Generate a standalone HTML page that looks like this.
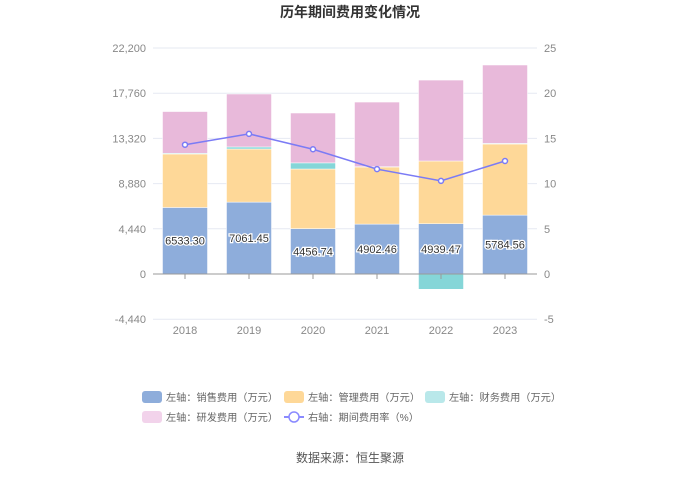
<!DOCTYPE html>
<html><head><meta charset="utf-8"><style>
body{margin:0;background:#fff;font-family:"Liberation Sans","Noto Sans CJK SC",sans-serif}
svg text{font-family:"Liberation Sans","Noto Sans CJK SC",sans-serif}
</style></head><body>
<svg id="c" width="700" height="473">
<text x="350" y="17" text-anchor="middle" font-size="14" font-weight="bold" fill="#333">历年期间费用变化情况</text>
<g id="grid"></g><g id="bars"></g><g id="line"></g><g id="axes"></g>
<g id="legend" font-size="10.2" fill="#666">
<g><rect x="142" y="391" width="20" height="12" rx="3" fill="#8eaddb"/><text x="166" y="401">左轴：销售费用（万元）</text></g>
<g><rect x="284" y="391" width="20" height="12" rx="3" fill="#fed898"/><text x="308" y="401">左轴：管理费用（万元）</text></g>
<g><rect x="425" y="391" width="20" height="12" rx="3" fill="#b9e8ea"/><text x="449" y="401">左轴：财务费用（万元）</text></g>
<g><rect x="142" y="411" width="20" height="12" rx="3" fill="#f2d3eb"/><text x="166" y="421">左轴：研发费用（万元）</text></g>
<g><line x1="284" y1="417" x2="304" y2="417" stroke="#8a8aff" stroke-width="2"/><circle cx="294" cy="417" r="5" fill="#fff" stroke="#8a8aff" stroke-width="1.5"/><text x="308" y="421">右轴：期间费用率（%）</text></g>
</g>
<text x="350" y="462" text-anchor="middle" font-size="12" fill="#555">数据来源：恒生聚源</text>
</svg>
<script>
const years=["2018","2019","2020","2021","2022","2023"];
const sales=[6533.30,7061.45,4456.74,4902.46,4939.47,5784.56];
const mgmt=[5255,5218,5857,5608,6160,6985];
const finance=[70,200,600,30,-1500,60];
const rd=[4100,5200,4900,6350,7950,7700];
const rate=[14.3,15.5,13.8,11.6,10.3,12.5];
const leftTicks=[-4440,0,4440,8880,13320,17760,22200];
const rightTicks=[-5,0,5,10,15,20,25];
const NS="http://www.w3.org/2000/svg";
const x0=153,cw=64,yTop=48,yZero=274,yBot=319;
const yL=v=>yZero-(v/22200)*(yZero-yTop);
const yR=v=>yZero-(v/25)*(yZero-yTop);
const xc=i=>x0+cw*(i+0.5);
function mk(t,a,p){const e=document.createElementNS(NS,t);for(const k in a)e.setAttribute(k,a[k]);p.appendChild(e);return e;}
const G=document.getElementById('grid'),B=document.getElementById('bars'),L=document.getElementById('line'),A=document.getElementById('axes');
leftTicks.forEach((t,i)=>{
 const y=yL(t);
 if(t!==0){const g=mk('line',{x1:x0,x2:x0+cw*6,y1:y,y2:y,stroke:'#e6e9f2'},G);
 
 }
 const tx=mk('text',{x:146,y:y+4,'text-anchor':'end','font-size':11,fill:'#888'},A);tx.textContent=t.toLocaleString('en-US');
 
 
 const r=mk('text',{x:544,y:yR(rightTicks[i])+4,'font-size':11,fill:'#888'},A);r.textContent=rightTicks[i];
 
 
});
mk('line',{x1:x0,x2:x0+cw*6,y1:yZero,y2:yZero,stroke:'#999'},A);
const bw=45;
years.forEach((yr,i)=>{
 const x=xc(i)-bw/2;
 let pos=0,neg=0;
 const segs=[[sales[i],'#8eaddb','bar-sales'],[mgmt[i],'#fed898','bar-management'],[finance[i],'#85d6d8','bar-finance'],[rd[i],'#e8b9da','bar-rd']];
 segs.forEach(([v,c,n])=>{
  let y1,y2;
  if(v>=0){y1=yL(pos+v);y2=yL(pos);pos+=v;}else{y1=yL(neg);y2=yL(neg+v);neg+=v;}
  const r=mk('rect',{x:x,y:y1,width:bw,height:Math.max(0,y2-y1),fill:c,stroke:'#fff','stroke-width':0.5},B);
  
  
 });
 const lb=mk('text',{x:xc(i),y:yL(sales[i]/2)+4,'text-anchor':'middle','font-size':11,fill:'#333',stroke:'#fff','stroke-width':2.5,'paint-order':'stroke'},B);
 lb.textContent=sales[i].toFixed(2);
 
 
 mk('line',{x1:xc(i),x2:xc(i),y1:yZero,y2:yZero+5,stroke:'#999'},A);
 const xt=mk('text',{x:xc(i),y:334,'text-anchor':'middle','font-size':11,fill:'#888'},A);xt.textContent=yr;
 
 
});
const pl=mk('polyline',{points:rate.map((v,i)=>xc(i)+','+yR(v)).join(' '),fill:'none',stroke:'#7b7bf5','stroke-width':1.5},L);


rate.forEach((v,i)=>{
 const c=mk('circle',{cx:xc(i),cy:yR(v),r:2.5,fill:'#fff',stroke:'#7b7bf5','stroke-width':1.5},L);
 
 
});
</script>
</body></html>
